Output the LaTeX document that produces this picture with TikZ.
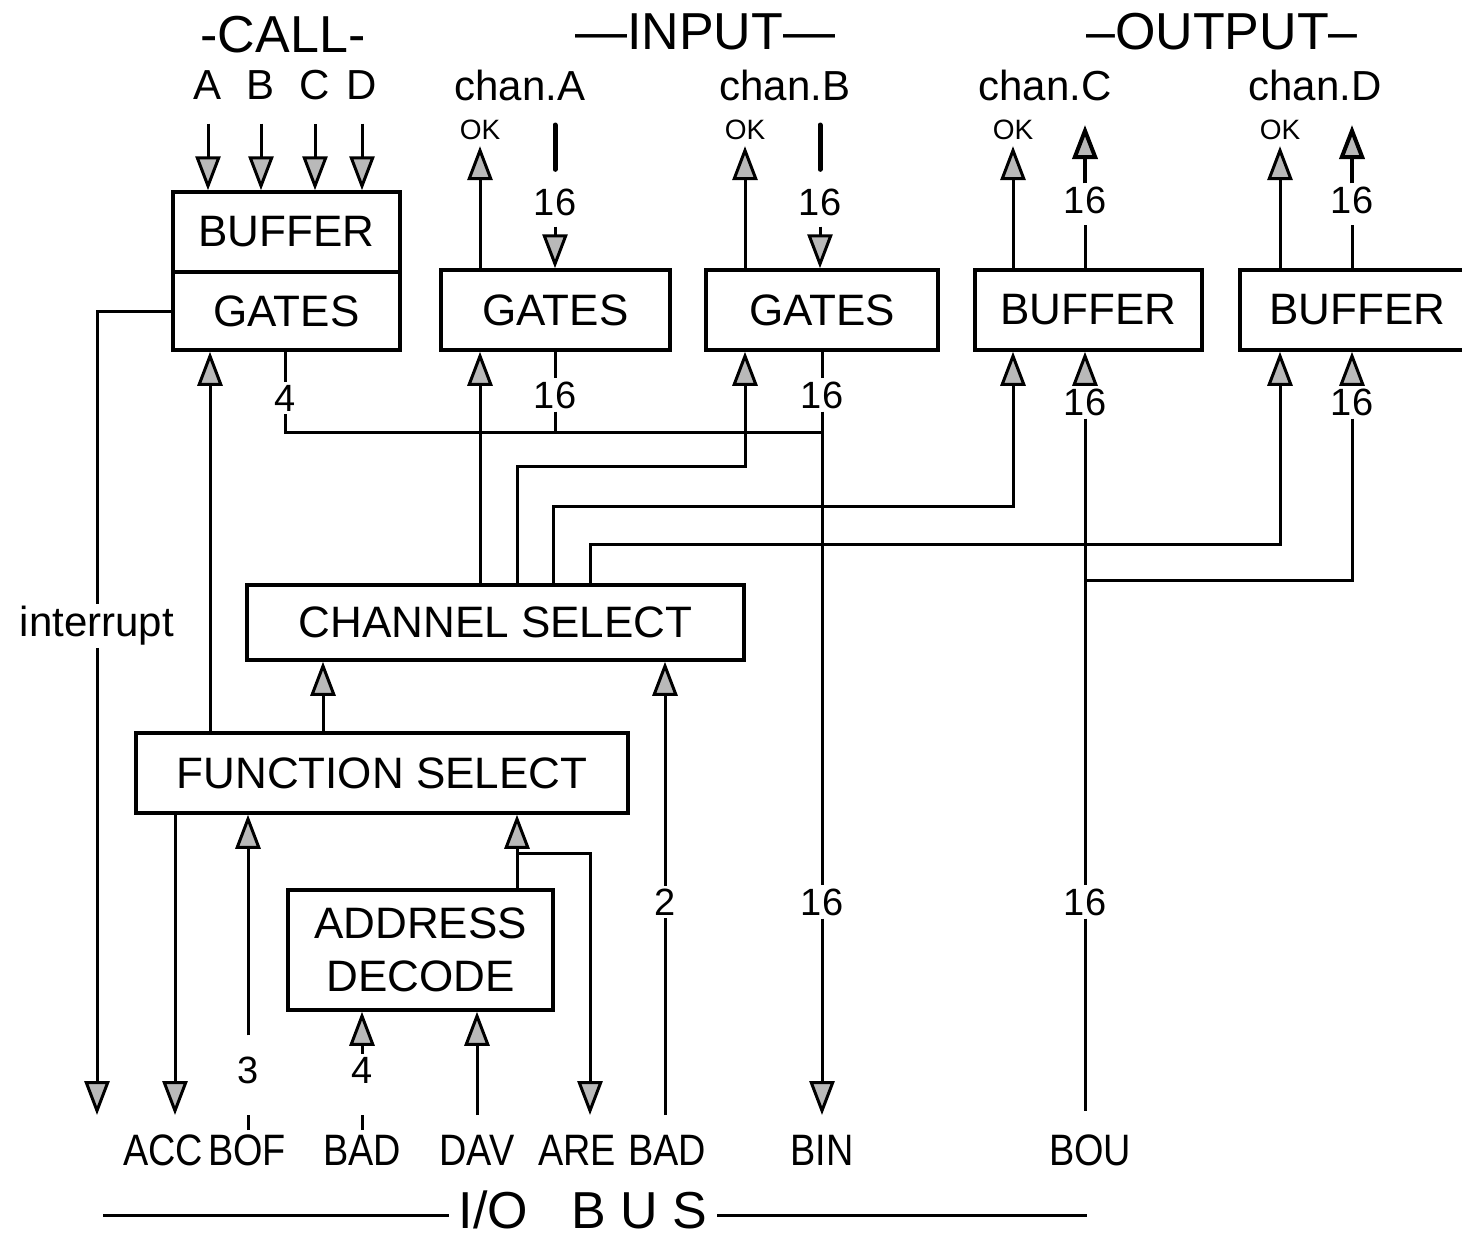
\documentclass[tikz,border=0pt]{standalone}
\usepackage{fontspec}
\setmainfont{Liberation Sans}
\newfontfamily\narrowfont{Liberation Sans}[FakeStretch=0.86]
\usetikzlibrary{arrows.meta, positioning}
\tikzstyle{block} = [rectangle, draw=black, line width=3.5pt, inner sep=0pt,
    text centered, align=center, font=\fontsize{44}{53}\selectfont]
\tikzstyle{heading} = [inner sep=0pt, font=\fontsize{52}{56}\selectfont]
\tikzstyle{lbl} = [inner sep=2pt, font=\fontsize{42}{46}\selectfont]
\tikzstyle{num} = [inner sep=3pt, font=\fontsize{38}{40}\selectfont]
\tikzstyle{oklbl} = [inner sep=2pt, font=\fontsize{28}{30}\selectfont]
\tikzstyle{buslbl} = [inner sep=2pt, font=\narrowfont\fontsize{44}{46}\selectfont]
\tikzstyle{wire} = [line width=3pt]
\tikzstyle{arrow} = [wire, -{Triangle[width=25pt,length=34pt,fill=gray!55]}]
\tikzstyle{busbar} = [line width=5pt, line cap=round]

\begin{document}
\begin{tikzpicture}[x=1pt, y=-1pt]
  \useasboundingbox (0,0) rectangle (1462,1247);
  % Headings
  \node[heading](tcall) at (283,35) {-CALL-};
  \node[heading](tin) at (705,32) {—INPUT—};
  \node[heading](tout) at (1222,32) {–OUTPUT–};
  \foreach \x/\l in {208/A,261/B,315/C,362/D}
    \node[lbl](call\l) at (\x,85) {\l};
  \node[lbl](chA) at (520,85) {chan.A};
  \node[lbl](chB) at (785,85) {chan.B};
  \node[lbl](chC) at (1045,85) {chan.C};
  \node[lbl](chD) at (1315,85) {chan.D};
  \node[oklbl](okA) at (480,130) {OK};
  \node[oklbl](okB) at (745,130) {OK};
  \node[oklbl](okC) at (1013,130) {OK};
  \node[oklbl](okD) at (1280,130) {OK};

  % Blocks
  \node[block, minimum width=227pt, minimum height=80pt](callbuf) at (286.5,232) {BUFFER};
  \node[block, minimum width=227pt, minimum height=78pt](callgate) at (286.5,311) {GATES};
  \node[block, minimum width=229pt, minimum height=80pt](gateA) at (555.5,310) {GATES};
  \node[block, minimum width=232pt, minimum height=80pt](gateB) at (822,310) {GATES};
  \node[block, minimum width=227pt, minimum height=80pt](bufC) at (1088.5,310) {BUFFER};
  \node[block, minimum width=235pt, minimum height=80pt](bufD) at (1357.5,310) {BUFFER};
  \node[block, minimum width=497pt, minimum height=75pt](chansel) at (495.5,622.5) {CHANNEL SELECT};
  \node[block, minimum width=492pt, minimum height=80pt](funcsel) at (382,773) {FUNCTION SELECT};
  \node[block, minimum width=265pt, minimum height=120pt](addrdec) at (420.5,950) {ADDRESS\\DECODE};

  % Bus widths
  \node[num](nAt) at (555,202) {16};
  \node[num](nBt) at (820,202) {16};
  \node[num](nCt) at (1085,200) {16};
  \node[num](nDt) at (1352,200) {16};
  \node[num](n4c) at (285,398) {4};
  \node[num](nAb) at (555,395) {16};
  \node[num](nBb) at (822,395) {16};
  \node[num](nCb) at (1085,402) {16};
  \node[num](nDb) at (1352,402) {16};
  \node[num](nBl) at (822,902) {16};
  \node[num](nCl) at (1085,902) {16};
  \node[num](n2) at (665,902) {2};
  \node[num](n3) at (248,1070) {3};
  \node[num](n4) at (362,1070) {4};
  \node[lbl, fill=white](intr) at (97,626) {interrupt};

  % I/O bus
  \foreach \x/\t/\n in {163/ACC/acc, 247/BOF/bof, 362/BAD/bada, 477/DAV/dav,
      577/ARE/are, 667/BAD/badb, 822/BIN/bin, 1090/BOU/bou}
    \node[buslbl](\n) at (\x,1150) {\t};
  \node[heading, inner sep=10pt](iobus) at (583,1210) {I/O\ \ \ B U S};
  \coordinate (busL) at (103,1215);
  \coordinate (busR) at (1087,1215);
  \draw[wire] (busL) -- (busL -| iobus.west);
  \draw[wire] (busR -| iobus.east) -- (busR);

  % Free ends
  \coordinate (bot) at (0,1115);
  \coordinate (inA) at (555,125);
  \coordinate (inB) at (820,125);
  \coordinate (outC) at (1085,125);
  \coordinate (outD) at (1352,125);
  \coordinate (j1) at (822,432);
  \coordinate (j2) at (1085,580);
  \coordinate (j3) at (517,853);
  \coordinate (areEnd) at (590,1115);

  % Top connections
  \foreach \l in {A,B,C,D}
    \draw[arrow, shorten <=22pt](call\l) -- (call\l |- callbuf.north);
  \draw[arrow, shorten >=4pt](gateA.north -| okA) -- (okA);
  \draw[arrow, shorten >=4pt](gateB.north -| okB) -- (okB);
  \draw[arrow, shorten >=4pt](bufC.north -| okC) -- (okC);
  \draw[arrow, shorten >=4pt](bufD.north -| okD) -- (okD);
  \draw[busbar, shorten >=16pt](inA) -- (nAt);
  \draw[busbar, shorten >=16pt](inB) -- (nBt);
  \draw[arrow, shorten <=8pt](nAt) -- (gateA.north -| nAt);
  \draw[arrow, shorten <=8pt](nBt) -- (gateB.north -| nBt);
  \draw[wire, shorten >=8pt](bufC.north -| nCt) -- (nCt);
  \draw[wire, shorten >=8pt](bufD.north -| nDt) -- (nDt);
  \draw[arrow, line width=4pt](nCt) -- (outC);
  \draw[arrow, line width=4pt](nDt) -- (outD);

  % Data buses
  \draw[wire](callgate.south -| n4c) -- (n4c);
  \draw[wire](n4c) |- (j1);
  \draw[wire](gateA.south -| nAb) -- (nAb);
  \draw[wire](nAb) -- (nAb |- j1);
  \draw[wire](gateB.south -| nBb) -- (nBb);
  \draw[wire](nBb) -- (nBl);
  \draw[arrow](nBl) -- (bin |- bot);
  \draw[arrow](nCb) -- (bufC.south -| nCb);
  \draw[wire](nCb) -- (nCl);
  \draw[wire, shorten >=4pt](nCl) -- (nCl |- bot);
  \draw[arrow](nDb) -- (bufD.south -| nDb);
  \draw[wire](nDb) |- (j2);

  % Channel select
  \draw[arrow](chansel.north -| okA) -- (gateA.south -| okA);
  \draw[arrow]([xshift=22pt]chansel.north) |- ([yshift=-115pt]gateB.south -| okB)
    -- (gateB.south -| okB);
  \draw[arrow]([xshift=58pt]chansel.north) |- ([yshift=-155pt]bufC.south -| okC)
    -- (bufC.south -| okC);
  \draw[arrow]([xshift=95pt]chansel.north) |- ([yshift=-193pt]bufD.south -| okD)
    -- (bufD.south -| okD);

  % Function select and decode
  \draw[wire](callgate.west) -| (intr);
  \draw[arrow](intr) -- (intr |- bot);
  \draw[arrow]([xshift=-172pt]funcsel.north) -- ([xshift=-172pt]funcsel.north |- callgate.south);
  \draw[arrow]([xshift=-59pt]funcsel.north) -- ([xshift=-59pt]funcsel.north |- chansel.south);
  \draw[arrow]([xshift=-207pt]funcsel.south) -- ([xshift=-207pt]funcsel.south |- bot);
  \draw[arrow, shorten <=18pt](n3) -- (n3 |- funcsel.south);
  \draw[arrow](n4) -- (n4 |- addrdec.south);
  \draw[wire]([yshift=-15pt]n3 |- bot) -- (n3 |- bot);
  \draw[wire]([yshift=-15pt]n4 |- bot) -- (n4 |- bot);
  \draw[arrow](dav |- bot) -- (dav |- addrdec.south);
  \draw[wire](addrdec.north -| j3) -- (j3);
  \draw[arrow](j3) -- (funcsel.south -| j3);
  \draw[arrow](j3) -| (areEnd);
  \draw[wire](n2 |- bot) -- (n2);
  \draw[arrow](n2) -- (n2 |- chansel.south);
\end{tikzpicture}
\end{document}
